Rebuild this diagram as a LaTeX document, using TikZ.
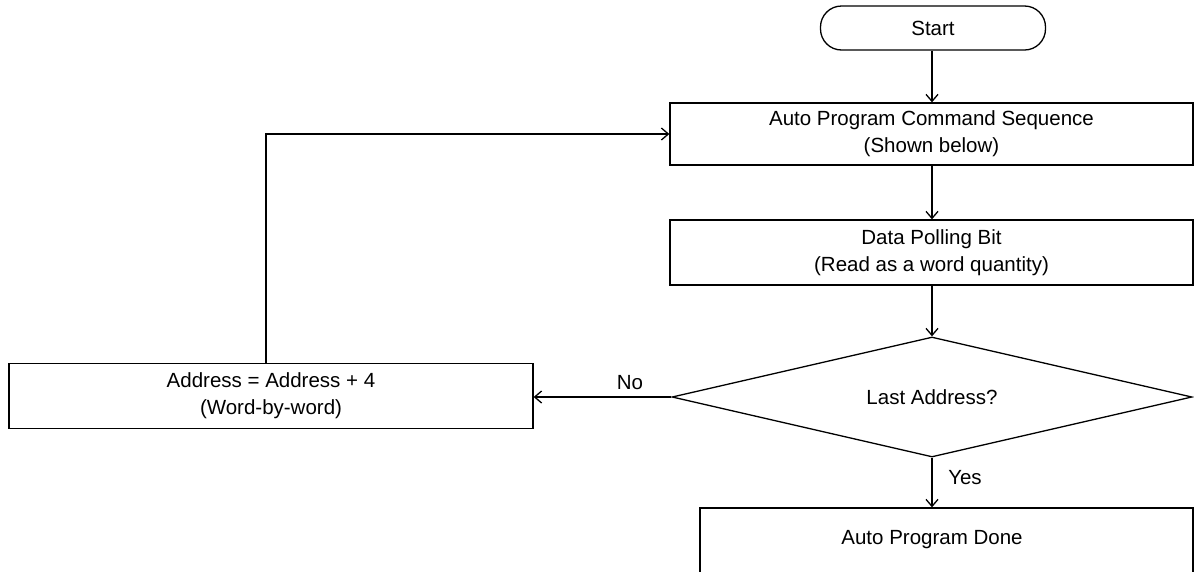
\documentclass[tikz,border=0pt]{standalone}
\usepackage{fontspec}
\setmainfont{Liberation Sans}
\usetikzlibrary{arrows.meta,shapes.geometric}
\begin{document}
\begin{tikzpicture}[x=1pt,y=-1pt,
  every node/.style={font=\fontsize{20.5}{27}\selectfont, align=center},
  box/.style={draw, line width=1.3pt, inner sep=0pt},
  dec/.style={draw, diamond, line width=1.3pt, inner sep=0pt, aspect=4.3},
  term/.style={draw, line width=1.3pt, rounded corners=21pt, inner sep=0pt},
  conn/.style={line width=1.3pt, -{Straight Barb[length=7pt,width=12pt,line width=1.3pt]}},
  lbl/.style={inner sep=0pt}
]
\useasboundingbox (0,0) rectangle (1194,571);
\clip (0,0) rectangle (1194,571);
\node[term, minimum width=225pt, minimum height=44pt] (start) at (933,28) {Start};
\node[box, minimum width=523pt, minimum height=62pt] (cmd) at (931.5,134) {Auto Program Command Sequence\\(Shown below)};
\node[box, minimum width=523pt, minimum height=65pt] (poll) at (931.5,252.5) {Data Polling Bit\\(Read as a word quantity)};
\node[dec, minimum width=520pt, minimum height=120pt] (last) at (932,397) {Last Address?};
\node[box, minimum width=524pt, minimum height=65pt] (addr) at (271,396) {Address = Address + 4\\(Word-by-word)};
\node[box, minimum width=493pt, minimum height=80pt] (done) at (946.5,548) {};
\node (donetext) at (932,540) {Auto Program Done};
\coordinate (axis) at (932,0);
\coordinate (loopc) at (266,134);
\draw[conn] (start.south -| axis) -- (cmd.north -| axis);
\draw[conn] (cmd.south -| axis) -- (poll.north -| axis);
\draw[conn] (poll.south -| axis) -- (last.north);
\draw[conn] (last.west) -- (last.west -| addr.east);
\draw[conn] (last.south) -- (last.south |- done.north);
\draw[conn] (loopc |- addr.north) -- (loopc) -- (cmd.west);
\node[lbl] (no) at (630,383) {No};
\node[lbl] (yes) at (965,478) {Yes};
\end{tikzpicture}
\end{document}
